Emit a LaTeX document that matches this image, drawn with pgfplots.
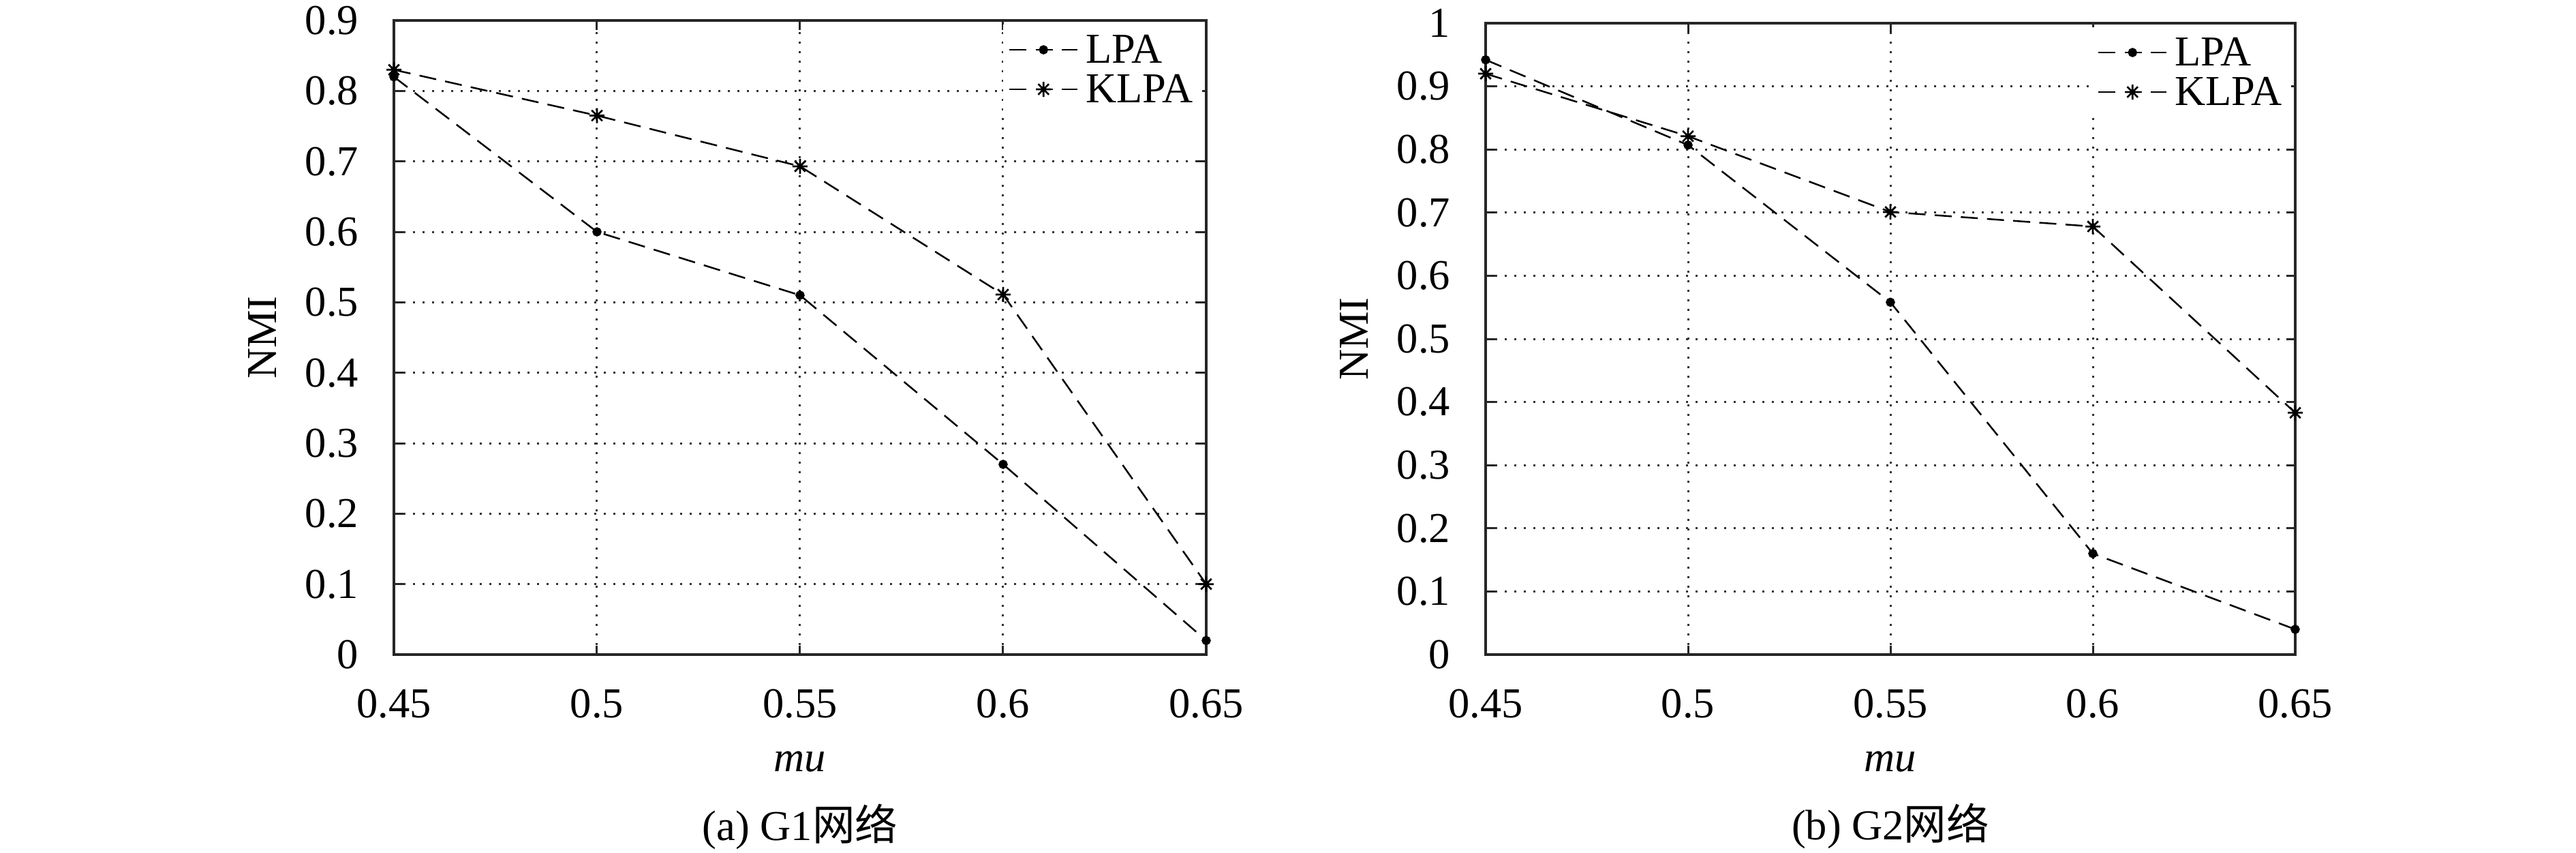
\documentclass[border=0pt]{standalone}
\usepackage{fontspec}
\setmainfont{Liberation Serif}
\newfontfamily\cjk{Noto Sans CJK SC}
\usepackage{pgfplots}
\pgfplotsset{compat=1.18}

\pgfdeclareplotmark{star8}{%
  \pgfpathmoveto{\pgfqpoint{-\pgfplotmarksize}{0pt}}\pgfpathlineto{\pgfqpoint{\pgfplotmarksize}{0pt}}%
  \pgfpathmoveto{\pgfqpoint{0pt}{-\pgfplotmarksize}}\pgfpathlineto{\pgfqpoint{0pt}{\pgfplotmarksize}}%
  \pgfpathmoveto{\pgfqpoint{-0.7071\pgfplotmarksize}{-0.7071\pgfplotmarksize}}\pgfpathlineto{\pgfqpoint{0.7071\pgfplotmarksize}{0.7071\pgfplotmarksize}}%
  \pgfpathmoveto{\pgfqpoint{-0.7071\pgfplotmarksize}{0.7071\pgfplotmarksize}}\pgfpathlineto{\pgfqpoint{0.7071\pgfplotmarksize}{-0.7071\pgfplotmarksize}}%
  \pgfusepathqstroke}

\newcommand{\lblfont}{\fontsize{12.5}{15}\selectfont}

\pgfplotsset{
  nmistyle/.style={
    scale only axis, anchor=south west,
    xmin=0.45, xmax=0.65, ymin=0,
    xtick={0.45,0.5,0.55,0.6,0.65},
    tick align=inside, major tick length=2.7pt,
    grid=major,
    major grid style={black!80, line width=0.6pt, dash pattern=on 0.6pt off 2.2pt},
    axis line style={black!85, line width=0.7pt},
    tick style={black!85, line width=0.6pt},
    /pgf/number format/assume math mode=true,
    xticklabel={\pgfmathprintnumber{\tick}},
    yticklabel={\pgfmathprintnumber{\tick}},
    tick label style={font=\lblfont, inner sep=0pt},
    yticklabel style={xshift=-10.2pt},
    xticklabel style={yshift=-10pt},
    xlabel={\textit{mu}}, ylabel={NMI},
    legend cell align=left,
    legend style={draw=none, fill=white, at={(axis description cs:1,1)}, anchor=north east,
      xshift=-1pt, yshift=-1pt, inner xsep=1.6pt, inner ysep=1.6pt,
      row sep=0pt, column sep=1.2pt, font=\lblfont,
      nodes={inner sep=1pt, text height=8.6pt, text depth=1pt}},
    legend image code/.code={\draw[mark repeat=2,mark phase=2,##1] plot coordinates {(0pt,0pt) (10pt,0pt) (20pt,0pt)};},
    clip=false,
  },
  lpa/.style={black, line width=0.5pt, dash pattern=on 5pt off 2.7pt, mark=*, mark size=1.1pt, mark options={solid}},
  klpa/.style={black, line width=0.5pt, dash pattern=on 5pt off 2.7pt, mark=star8, mark size=2.2pt, mark options={solid, line width=0.55pt}},
}

\begin{document}
\begin{tikzpicture}
\path[use as bounding box] (0pt,0pt) rectangle (756pt,250pt);

\begin{axis}[nmistyle,
  at={(115.6pt,58pt)}, width=238.4pt, height=186pt,
  ymax=0.9, ytick={0,0.1,0.2,0.3,0.4,0.5,0.6,0.7,0.8,0.9},
  every axis x label/.style={at={(axis description cs:0.5,-0.1849)}, anchor=base, inner sep=0pt, font=\lblfont},
  every axis y label/.style={at={(axis description cs:-0.1443,0.5)}, rotate=90, anchor=base, inner sep=0pt, font=\lblfont},
]
\addplot[lpa] coordinates {(0.45,0.82) (0.5,0.60) (0.55,0.51) (0.6,0.27) (0.65,0.02)};
\addlegendentry{LPA}
\addplot[klpa] coordinates {(0.45,0.83) (0.5,0.765) (0.55,0.693) (0.6,0.511) (0.65,0.10)};
\addlegendentry{KLPA}
\node[anchor=base, inner sep=0pt, font=\lblfont] at (axis description cs:0.5,-0.2925) {(a) G1{\cjk 网络}};
\end{axis}

\begin{axis}[nmistyle,
  at={(436pt,58pt)}, width=237.6pt, height=185.2pt,
  ymax=1, ytick={0,0.1,0.2,0.3,0.4,0.5,0.6,0.7,0.8,0.9,1},
  every axis x label/.style={at={(axis description cs:0.5,-0.1857)}, anchor=base, inner sep=0pt, font=\lblfont},
  every axis y label/.style={at={(axis description cs:-0.1448,0.5)}, rotate=90, anchor=base, inner sep=0pt, font=\lblfont},
]
\addplot[lpa] coordinates {(0.45,0.942) (0.5,0.807) (0.55,0.558) (0.6,0.16) (0.65,0.04)};
\addlegendentry{LPA}
\addplot[klpa] coordinates {(0.45,0.92) (0.5,0.821) (0.55,0.701) (0.6,0.678) (0.65,0.383)};
\addlegendentry{KLPA}
\node[anchor=base, inner sep=0pt, font=\lblfont] at (axis description cs:0.5,-0.2937) {(b) G2{\cjk 网络}};
\end{axis}
\end{tikzpicture}
\end{document}
